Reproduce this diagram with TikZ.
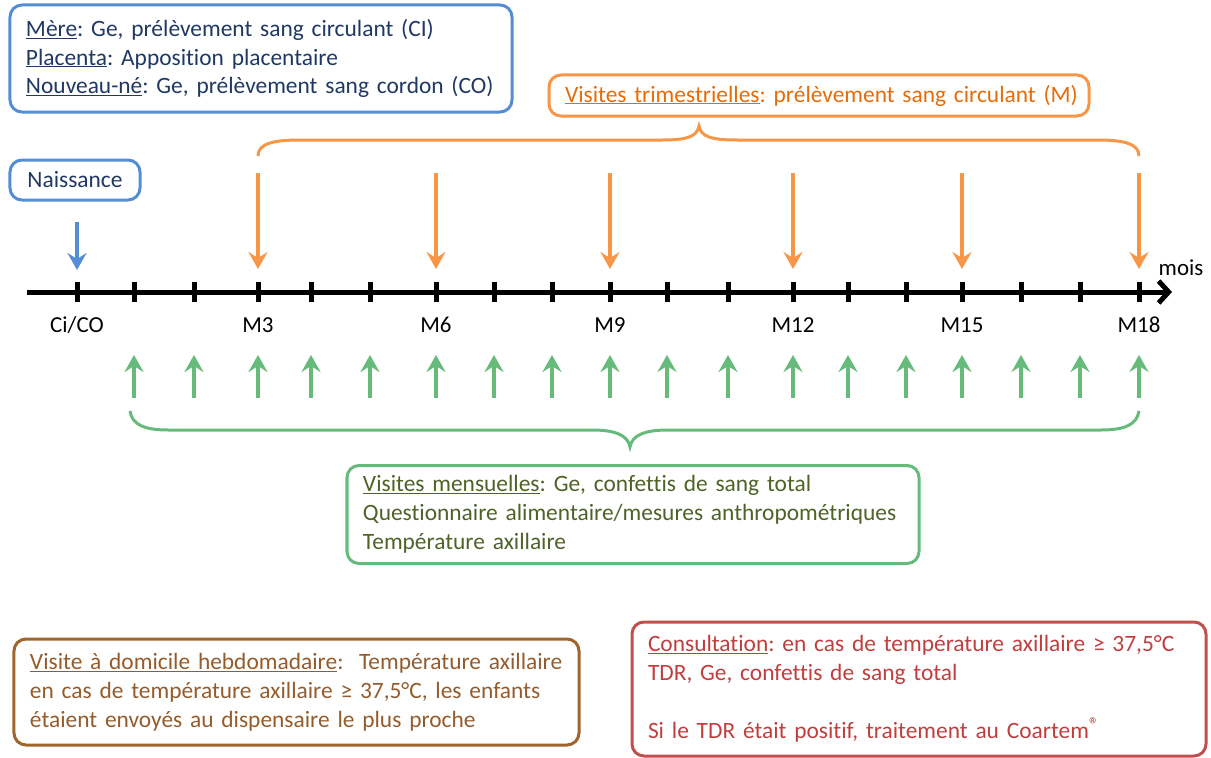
\documentclass[tikz,border=0pt]{standalone}
\usepackage{fontspec}
\setmainfont{Carlito}[Ligatures=NoCommon]
\usetikzlibrary{arrows.meta}
\frenchspacing
\definecolor{bluebd}{RGB}{84,141,212}
\definecolor{bluetx}{RGB}{31,56,100}
\definecolor{orng}{RGB}{247,150,70}
\definecolor{orngtx}{RGB}{228,108,10}
\definecolor{grn}{RGB}{102,187,122}
\definecolor{grntx}{RGB}{79,98,40}
\definecolor{brnbd}{RGB}{160,100,45}
\definecolor{brntx}{RGB}{148,92,45}
\definecolor{redbd}{RGB}{192,80,77}
\definecolor{redtx}{RGB}{192,62,62}
\begin{document}
\begin{tikzpicture}[x=1bp,y=-1bp,
  infobox/.style={draw, line width=3bp, rounded corners=12bp, inner xsep=16bp, inner ysep=0bp,
    align=left, font=\fontsize{23.5}{29}\selectfont},
  axisline/.style={line width=5bp, -{Straight Barb[length=10bp,width=22bp,line width=5bp]}},
  tickmark/.style={line width=5bp},
  axlabel/.style={font=\fontsize{23}{27}\selectfont, text=black},
  oarrow/.style={orng, line width=4.5bp, -{Stealth[length=17bp,width=19bp,inset=6bp]}},
  garrow/.style={grn, line width=4.5bp, -{Stealth[length=17bp,width=19bp,inset=6bp]}},
  barrow/.style={bluebd, line width=4.5bp, -{Stealth[length=17bp,width=19bp,inset=6bp]}},
  bracepath/.style={line width=3bp}
]
\useasboundingbox (0,0) rectangle (1211,758);

% info boxes
\node[infobox, draw=bluebd, text=bluetx, minimum width=502bp, minimum height=107bp, text width=470bp] (mere) at (261,58.5)
  {\mbox{\underline{Mère}: Ge, prélèvement sang circulant (CI)}\\
   \mbox{\underline{Placenta}: Apposition placentaire}\\
   \mbox{\underline{Nouveau-né}: Ge, prélèvement sang cordon (CO)}};

\node[infobox, draw=orng, text=orngtx, minimum width=538bp, minimum height=41bp, text width=508bp] (trim) at (819,95.5)
  {\mbox{\underline{Visites trimestrielles}: prélèvement sang circulant (M)}};

\node[infobox, draw=bluebd, text=bluetx, minimum width=130bp, minimum height=40bp, inner xsep=4bp, align=center] (naiss) at (75,180)
  {Naissance};

\node[infobox, draw=grn, text=grntx, minimum width=570bp, minimum height=98bp, text width=540bp] (mens) at (633,514.5)
  {\mbox{\underline{Visites mensuelles}: Ge, confettis de sang total}\\
   \mbox{Questionnaire alimentaire/mesures anthropométriques}\\
   \mbox{Température axillaire}};

\node[infobox, draw=brnbd, text=brntx, minimum width=563bp, minimum height=106bp, text width=533bp] (hebdo) at (296.5,692)
  {\mbox{\underline{Visite à domicile hebdomadaire}:\ \ Température axillaire}\\
   \mbox{en cas de température axillaire ≥ 37,5°C, les enfants}\\
   \mbox{étaient envoyés au dispensaire le plus proche}};

\node[infobox, draw=redbd, text=redtx, minimum width=572bp, minimum height=134bp, text width=542bp] (consult) at (919,689)
  {\mbox{\underline{Consultation}: en cas de température axillaire ≥ 37,5°C}\\
   \mbox{TDR, Ge, confettis de sang total}\\
   \mbox{}\\
   \mbox{Si le TDR était positif, traitement au Coartem\raisebox{0.3em}{\fontsize{20}{20}\selectfont ®}}};

% axis
\coordinate (axstart) at (27,292);
\coordinate (axend) at (1172,292);
\draw[axisline] (axstart) -- (axend);
\node[axlabel] (mois) at (1181,268) {mois};

\foreach \x [count=\i from 0] in {77,134,194,258,311,370,436,494,552,610,667,728,793,848,906,962,1021,1080,1139} {
  \coordinate (t\i) at (\x,292);
  \coordinate (tt\i) at (\x,282);
  \coordinate (tb\i) at (\x,302);
  \draw[tickmark] (tt\i) -- (tb\i);
}

% tick labels
\node[axlabel] (lCi) at (77,325) {Ci/CO};
\node[axlabel] (lM3) at (258,325) {M3};
\node[axlabel] (lM6) at (436,325) {M6};
\node[axlabel] (lM9) at (610,325) {M9};
\node[axlabel] (lM12) at (793,325) {M12};
\node[axlabel] (lM15) at (962,325) {M15};
\node[axlabel] (lM18) at (1139,325) {M18};

% birth arrow
\coordinate (bs) at (77,222);
\coordinate (be) at (77,270);
\draw[barrow] (bs) -- (be);

% quarterly arrows
\foreach \x in {258,436,610,793,962,1139} {
  \coordinate (os\x) at (\x,173);
  \coordinate (oe\x) at (\x,269);
  \draw[oarrow] (os\x) -- (oe\x);
}

% monthly arrows
\foreach \x in {134,194,258,311,370,436,494,552,610,667,728,793,848,906,962,1021,1080,1139} {
  \coordinate (gs\x) at (\x,398);
  \coordinate (ge\x) at (\x,355);
  \draw[garrow] (gs\x) -- (ge\x);
}

% orange brace
\draw[bracepath, orng] (258,156) .. controls (258,143) and (275,140) .. (300,140) -- (663,140)
  .. controls (686,140) and (697,137) .. (699,126) .. controls (701,137) and (712,140) .. (737,140)
  -- (1097,140) .. controls (1122,140) and (1139,143) .. (1139,156);

% green brace
\draw[bracepath, grn] (130,411) .. controls (132,425) and (145,430) .. (168,430) -- (592,430)
  .. controls (615,430) and (628,435) .. (630,447) .. controls (632,435) and (645,430) .. (668,430)
  -- (1101,430) .. controls (1124,430) and (1137,425) .. (1139,411);
\end{tikzpicture}
\end{document}
